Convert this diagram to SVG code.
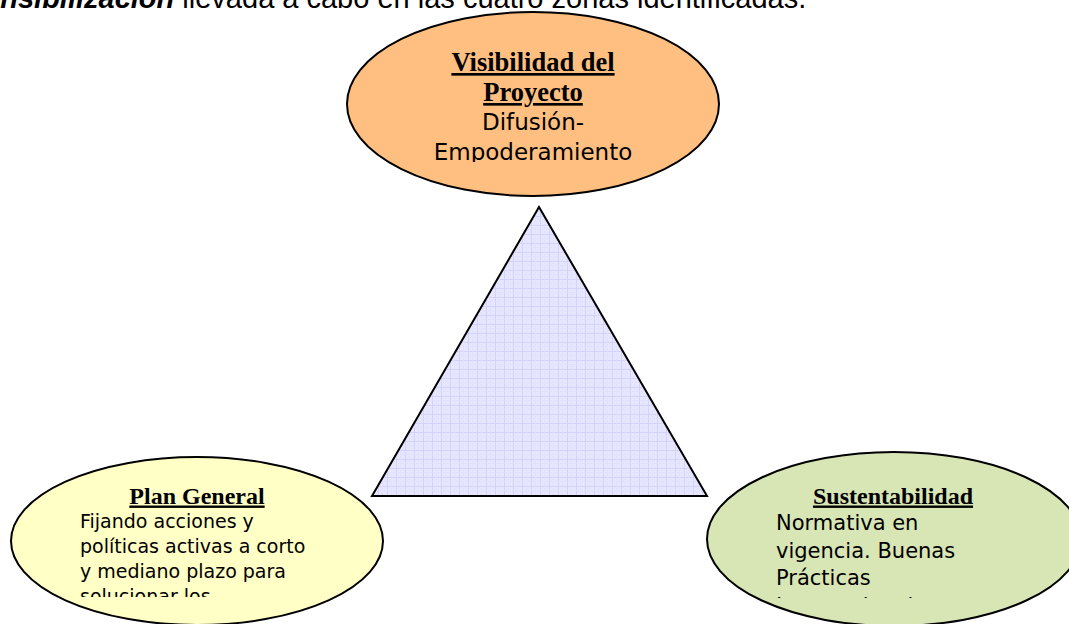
<svg xmlns="http://www.w3.org/2000/svg" width="1069" height="624" viewBox="0 0 1069 624">
  <style>
    .edge { stroke: #000; stroke-width: 2; }
    .head { font-family: "Liberation Serif", "Times New Roman", serif; font-weight: bold; text-decoration: underline; fill: #000; }
    .body { font-family: "DejaVu Sans", Verdana, sans-serif; fill: #000; }
    .intro { font-family: "Liberation Sans", Arial, sans-serif; font-size: 29px; fill: #000; }
  </style>
  <defs>
    <pattern id="grid" width="9" height="9" patternUnits="userSpaceOnUse">
      <rect width="9" height="9" fill="#E6E6FF"/>
      <path d="M0 0.5H9M0.5 0V9" stroke="#D2D2FB" stroke-width="1"/>
      <path d="M0 4.5H9M4.5 0V9" stroke="#DCDCFD" stroke-width="1" stroke-dasharray="1 1"/>
    </pattern>
    <clipPath id="clipTop"><rect x="340" y="0" width="390" height="162"/></clipPath>
    <clipPath id="clipLeft"><rect x="0" y="440" width="400" height="157"/></clipPath>
    <clipPath id="clipRight"><rect x="700" y="440" width="369" height="158"/></clipPath>
  </defs>

  <rect width="1069" height="624" fill="#fff"/>

  <g id="intro">
    <text class="intro" x="-32" y="8"><tspan font-weight="bold" font-style="italic">sensibilización</tspan> llevada a cabo en las cuatro zonas identificadas.</text>
  </g>

  <g id="connectors"></g>

  <g id="triangle">
    <polygon points="539,207 372,496 707,496" fill="url(#grid)" class="edge" stroke-linejoin="miter"/>
  </g>

  <g id="visibilidad">
    <ellipse cx="533" cy="104" rx="186" ry="92" fill="#FFBF80" class="edge"/>
    <g clip-path="url(#clipTop)">
      <text class="head" x="533" y="71" font-size="26.5" text-anchor="middle">Visibilidad del</text>
      <text class="head" x="533" y="101" font-size="26.5" text-anchor="middle">Proyecto</text>
      <text class="body" x="533" y="129.5" font-size="23" text-anchor="middle">Difusión-</text>
      <text class="body" x="533" y="159.5" font-size="23" text-anchor="middle">Empoderamiento</text>
    </g>
  </g>

  <g id="plan-general">
    <ellipse cx="197" cy="541" rx="186" ry="84" fill="#FFFFC6" class="edge"/>
    <g clip-path="url(#clipLeft)">
      <text class="head" x="197" y="503.5" font-size="24" text-anchor="middle">Plan General</text>
      <text class="body" font-size="19">
        <tspan x="80" y="528.3">Fijando acciones y</tspan>
        <tspan x="80" y="553">políticas activas a corto</tspan>
        <tspan x="80" y="578.3">y mediano plazo para</tspan>
        <tspan x="80" y="603">solucionar los</tspan>
      </text>
    </g>
  </g>

  <g id="sustentabilidad">
    <ellipse cx="894" cy="539" rx="187" ry="87" fill="#D8E6B6" class="edge"/>
    <g clip-path="url(#clipRight)">
      <text class="head" x="893" y="503.5" font-size="24" text-anchor="middle">Sustentabilidad</text>
      <text class="body" font-size="21">
        <tspan x="776" y="530">Normativa en</tspan>
        <tspan x="776" y="557.5">vigencia. Buenas</tspan>
        <tspan x="776" y="585">Prácticas</tspan>
        <tspan x="776" y="612.5">Internacionales</tspan>
      </text>
    </g>
  </g>
</svg>
